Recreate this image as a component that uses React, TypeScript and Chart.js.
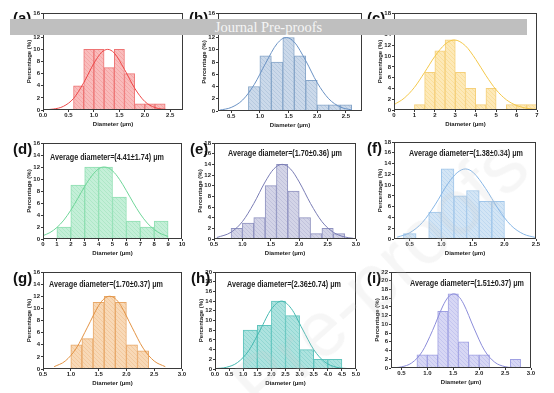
import React, { useEffect, useRef } from "react";
import { Chart, registerables } from "chart.js";
Chart.register(...registerables);

// ---------- data (percentages) ----------
const aBins = [0.7, 0.9, 1.1, 1.3, 1.5, 1.7, 1.9, 2.1, 2.3];
const aPct = [4, 10, 10, 7, 10, 6, 1, 1, 1];
const aFitX = [0.05, 0.2, 0.4, 0.6, 0.8, 1.0, 1.15, 1.27, 1.4, 1.6, 1.8, 2.0, 2.2, 2.45];
const aFitY = [0.05, 0.15, 0.6, 1.9, 4.5, 7.7, 9.5, 10, 9.4, 6.7, 3.6, 1.4, 0.4, 0.06];

const bBins = [0.9, 1.1, 1.3, 1.5, 1.7, 1.9, 2.1, 2.3, 2.5];
const bPct = [4, 9, 8, 12, 9, 5, 1, 1, 1];
const bFitX = [0.3, 0.5, 0.7, 0.9, 1.1, 1.3, 1.46, 1.6, 1.8, 2.0, 2.2, 2.4, 2.6];
const bFitY = [0.14, 0.58, 1.8, 4.3, 7.8, 11.0, 12, 11.25, 8.2, 4.6, 2.0, 0.66, 0.17];

const cBins = [1.25, 1.75, 2.25, 2.75, 3.25, 3.75, 4.25, 4.75, 5.75, 6.25, 6.75];
const cPct = [1, 7, 11, 13, 7, 4, 1, 4, 1, 1, 1];
const cFitX = [0, 0.5, 1, 1.5, 2, 2.5, 2.95, 3.5, 4, 4.5, 5, 5.5, 6, 6.5, 7];
const cFitY = [0.99, 2.2, 4.2, 7.0, 9.95, 12.2, 13, 11.9, 9.4, 6.4, 3.75, 1.9, 0.83, 0.31, 0.1];

const dBins = [1.5, 2.5, 3.5, 4.5, 5.5, 6.5, 7.5, 8.5];
const dPct = [2, 9, 12, 12, 7, 3, 2, 3];
const dFitX = [0, 0.5, 1, 1.5, 2, 2.5, 3, 3.5, 4, 4.41, 5, 5.5, 6, 6.5, 7, 7.5, 8, 8.5, 9];
const dFitY = [0.56, 1.07, 1.92, 3.15, 4.8, 6.75, 8.77, 10.5, 11.7, 12, 11.36, 9.95, 8.05, 6.02, 4.16, 2.66, 1.57, 0.86, 0.43];

const eBins = [0.9, 1.1, 1.3, 1.5, 1.7, 1.9, 2.1, 2.3, 2.5, 2.7];
const ePct = [2, 3, 4, 10, 14, 9, 4, 1, 2, 1];
const eFitX = [0.55, 0.8, 1.0, 1.2, 1.4, 1.55, 1.7, 1.85, 2.0, 2.2, 2.4, 2.6, 2.8, 2.95];
const eFitY = [0.28, 1.26, 3.26, 6.65, 10.7, 13.1, 14, 13.1, 10.7, 6.65, 3.26, 1.26, 0.38, 0.13];

const fBins = [0.5, 0.9, 1.1, 1.3, 1.5, 1.7, 1.9];
const fPct = [1, 5, 13, 8, 9, 7, 7];
const fFitX = [0.3, 0.5, 0.7, 0.9, 1.1, 1.25, 1.38, 1.5, 1.7, 1.9, 2.1, 2.3, 2.5];
const fFitY = [0.34, 1.16, 3.07, 6.33, 10.2, 12.3, 13, 12.4, 9.4, 5.6, 2.57, 0.92, 0.26];

const gBins = [1.1, 1.3, 1.5, 1.7, 1.9, 2.1, 2.3];
const gPct = [4, 5, 11, 12, 11, 4, 3];
const gFitX = [0.7, 0.9, 1.1, 1.3, 1.5, 1.6, 1.7, 1.8, 1.9, 2.1, 2.3, 2.5, 2.7];
const gFitY = [0.38, 1.31, 3.45, 6.9, 10.45, 11.6, 12, 11.6, 10.45, 6.9, 3.45, 1.31, 0.38];

const hBins = [1.25, 1.75, 2.25, 2.75, 3.25, 3.75, 4.25];
const hPct = [8, 9, 14, 11, 4, 2, 2];
const hFitX = [0, 0.4, 0.8, 1.2, 1.6, 2.0, 2.36, 2.7, 3.1, 3.5, 3.9, 4.3, 4.8];
const hFitY = [0.07, 0.34, 1.34, 3.82, 8.02, 12.36, 14, 12.5, 8.25, 4.0, 1.42, 0.37, 0.05];

const iBins = [0.9, 1.1, 1.3, 1.5, 1.7, 1.9, 2.1, 2.7];
const iPct = [3, 3, 13, 17, 6, 3, 3, 2];
const iFitX = [0.3, 0.5, 0.7, 0.9, 1.1, 1.3, 1.4, 1.51, 1.6, 1.7, 1.9, 2.1, 2.3, 2.5, 2.75];
const iFitY = [0.04, 0.26, 1.17, 3.72, 8.56, 14.2, 16.2, 17, 16.45, 14.7, 9.14, 4.1, 1.33, 0.31, 0.03];

const panelLabels = ["(a)", "(b)", "(c)", "(d)", "(e)", "(f)", "(g)", "(h)", "(i)"];
const averageTexts = [
  "",
  "",
  "",
  "Average diameter=(4.41±1.74) μm",
  "Average diameter=(1.70±0.36) μm",
  "Average diameter=(1.38±0.34) μm",
  "Average diameter=(1.70±0.37) μm",
  "Average diameter=(2.36±0.74) μm",
  "Average diameter=(1.51±0.37) μm",
];
const xTitle = "Diameter (μm)";
const yTitle = "Percentage (%)";

// ---------- layout / style ----------
type Spec = {
  box: number[];
  xMin: number;
  xMax: number;
  xStep: number;
  xDec: number;
  yMax: number;
  bins: number[];
  pct: number[];
  fitX: number[];
  fitY: number[];
  fill: string;
  hatch: string;
  edge: string;
  curve: string;
  labelPos: number[];
  annotPos: number[];
};

const PANELS: Spec[] = [
  { box: [43, 13, 183, 110], xMin: 0, xMax: 2.75, xStep: 0.5, xDec: 1, yMax: 16, bins: aBins, pct: aPct, fitX: aFitX, fitY: aFitY, fill: "#f9bcbc", hatch: "#f3a4a4", edge: "#ee7474", curve: "#ee4848", labelPos: [13, 10], annotPos: [0, 0] },
  { box: [218, 13, 362, 111], xMin: 0.27, xMax: 2.78, xStep: 0.5, xDec: 1, yMax: 16, bins: bBins, pct: bPct, fitX: bFitX, fitY: bFitY, fill: "#cbd9ea", hatch: "#b3c7de", edge: "#87a6c9", curve: "#6a92c4", labelPos: [189, 10], annotPos: [0, 0] },
  { box: [394, 13, 537, 110], xMin: 0, xMax: 7, xStep: 1, xDec: 0, yMax: 18, bins: cBins, pct: cPct, fitX: cFitX, fitY: cFitY, fill: "#fde9b8", hatch: "#f9dc96", edge: "#f5d07a", curve: "#f4c84a", labelPos: [367, 10], annotPos: [0, 0] },
  { box: [43, 143, 182, 239], xMin: 0, xMax: 10, xStep: 1, xDec: 0, yMax: 16, bins: dBins, pct: dPct, fitX: dFitX, fitY: dFitY, fill: "#c4efd8", hatch: "#abe7c5", edge: "#8fdfb2", curve: "#6fd699", labelPos: [13, 141], annotPos: [50, 152] },
  { box: [214, 143, 356, 239], xMin: 0.5, xMax: 3.0, xStep: 0.5, xDec: 1, yMax: 18, bins: eBins, pct: ePct, fitX: eFitX, fitY: eFitY, fill: "#d3d4e7", hatch: "#bec0da", edge: "#8f92c0", curve: "#7a7db5", labelPos: [190, 141], annotPos: [228, 148] },
  { box: [394, 142, 536, 239], xMin: 0.25, xMax: 2.5, xStep: 0.5, xDec: 1, yMax: 18, bins: fBins, pct: fPct, fitX: fFitX, fitY: fFitY, fill: "#d3e5f5", hatch: "#bcd7f0", edge: "#a0c6ea", curve: "#88b7e6", labelPos: [367, 140], annotPos: [409, 148] },
  { box: [43, 272, 182, 369], xMin: 0.5, xMax: 3.0, xStep: 0.5, xDec: 1, yMax: 16, bins: gBins, pct: gPct, fitX: gFitX, fitY: gFitY, fill: "#f8d9b7", hatch: "#f2c79b", edge: "#e8a868", curve: "#e39344", labelPos: [13, 270], annotPos: [49, 279] },
  { box: [215, 272, 356, 369], xMin: 0, xMax: 5, xStep: 0.5, xDec: 1, yMax: 20, bins: hBins, pct: hPct, fitX: hFitX, fitY: hFitY, fill: "#ade3df", hatch: "#8fd6d1", edge: "#5fc4bd", curve: "#45b9b1", labelPos: [191, 270], annotPos: [227, 279] },
  { box: [391, 272, 531, 368], xMin: 0.3, xMax: 3.0, xStep: 0.5, xDec: 1, yMax: 22, bins: iBins, pct: iPct, fitX: iFitX, fitY: iFitY, fill: "#d7d7f4", hatch: "#c2c3ee", edge: "#9fa0e2", curve: "#8c8dda", labelPos: [367, 270], annotPos: [410, 278] },
];

const YW = 20;
const XH = 20;
const PT = 6;
const PR = 10;
const FONT = "'Liberation Sans', Arial, sans-serif";
const TXT = "#222";

function makeHatch(bg: string, line: string) {
  const c = document.createElement("canvas");
  c.width = 4;
  c.height = 4;
  const x = c.getContext("2d")!;
  x.fillStyle = bg;
  x.fillRect(0, 0, 4, 4);
  x.strokeStyle = line;
  x.lineWidth = 0.9;
  x.beginPath();
  x.moveTo(0, 0);
  x.lineTo(4, 4);
  x.moveTo(-1, 3);
  x.lineTo(1, 5);
  x.moveTo(3, -1);
  x.lineTo(5, 1);
  x.stroke();
  return x.createPattern(c, "repeat")!;
}

const framePlugin = {
  id: "frame",
  afterDatasetsDraw(chart: any) {
    const { ctx, chartArea: a } = chart;
    ctx.save();
    ctx.strokeStyle = "#3a3a3a";
    ctx.lineWidth = 1;
    ctx.strokeRect(a.left + 0.5, a.top + 0.5, a.right - a.left - 1, a.bottom - a.top - 1);
    ctx.restore();
  },
};

function Panel({ spec }: { spec: Spec }) {
  const ref = useRef<HTMLCanvasElement>(null);
  const [L, T, R, B] = spec.box;
  const W = R - L + YW + PR;
  const H = B - T + PT + XH;
  useEffect(() => {
    const tickFont = { family: FONT, size: 6, weight: "bold" as const };
    const titleFont = { family: FONT, size: 6, weight: "bold" as const };
    const chart = new Chart(ref.current!, {
      type: "bar",
      data: {
        datasets: [
          {
            type: "line",
            data: spec.fitX.map((x, i) => ({ x, y: spec.fitY[i] })),
            borderColor: spec.curve,
            borderWidth: 1,
            pointRadius: 0,
            cubicInterpolationMode: "monotone",
            fill: false,
            order: 0,
          } as any,
          {
            type: "bar",
            data: spec.bins.map((x, i) => ({ x, y: spec.pct[i] })),
            backgroundColor: makeHatch(spec.fill, spec.hatch),
            borderColor: spec.edge,
            borderWidth: 1,
            borderSkipped: "bottom",
            barPercentage: 1,
            categoryPercentage: 1,
            order: 1,
          } as any,
        ],
      },
      options: {
        responsive: false,
        animation: false,
        events: [],
        layout: { padding: { top: PT, right: PR, left: 0, bottom: 0 } },
        plugins: { legend: { display: false }, tooltip: { enabled: false } },
        scales: {
          x: {
            type: "linear",
            min: spec.xMin,
            max: spec.xMax,
            offset: false,
            ticks: {
              stepSize: spec.xStep,
              includeBounds: false,
              autoSkip: false,
              maxRotation: 0,
              padding: 0,
              font: tickFont,
              color: TXT,
              callback: (v: any) => Number(v).toFixed(spec.xDec),
            },
            grid: { offset: false, drawOnChartArea: false, drawTicks: true, tickLength: 2, color: "#3a3a3a" },
            border: { display: false },
            title: { display: true, text: xTitle, font: titleFont, color: TXT, padding: { top: 0, bottom: 1.9 } },
            afterFit: (s: any) => {
              s.height = XH;
            },
          } as any,
          y: {
            type: "linear",
            min: 0,
            max: spec.yMax,
            ticks: { stepSize: 2, autoSkip: false, padding: 1, font: tickFont, color: TXT },
            grid: { drawOnChartArea: false, drawTicks: true, tickLength: 2, color: "#3a3a3a" },
            border: { display: false },
            title: { display: true, text: yTitle, font: titleFont, color: TXT, padding: { top: 2.4, bottom: 0 } },
            afterFit: (s: any) => {
              s.width = YW;
            },
          } as any,
        },
      },
      plugins: [framePlugin],
    });
    return () => chart.destroy();
  }, []);
  return (
    <canvas
      ref={ref}
      width={W}
      height={H}
      style={{ position: "absolute", left: L - YW, top: T - PT, width: W, height: H }}
    />
  );
}

export default function App() {
  return (
    <div
      style={{
        position: "fixed",
        left: 0,
        top: 0,
        width: 554,
        height: 393,
        background: "#fff",
        overflow: "hidden",
        fontFamily: FONT,
      }}
    >
      {PANELS.map((p, i) => (
        <Panel key={i} spec={p} />
      ))}
      {PANELS.map((p, i) => (
        <div
          key={"l" + i}
          style={{
            position: "absolute",
            left: p.labelPos[0],
            top: p.labelPos[1],
            fontSize: 15,
            fontWeight: "bold",
            lineHeight: "15px",
            color: "#111",
            whiteSpace: "nowrap",
          }}
        >
          {panelLabels[i]}
        </div>
      ))}
      {PANELS.map((p, i) =>
        averageTexts[i] ? (
          <div
            key={"t" + i}
            style={{
              position: "absolute",
              left: p.annotPos[0],
              top: p.annotPos[1],
              fontSize: 9,
              fontWeight: "bold",
              lineHeight: "10px",
              color: TXT,
              whiteSpace: "nowrap",
              transform: "scaleX(0.8)",
              transformOrigin: "left center",
            }}
          >
            {averageTexts[i]}
          </div>
        ) : null
      )}
      <div
        style={{
          position: "absolute",
          left: 380,
          top: 275,
          transform: "translate(-50%, -50%) rotate(-42deg)",
          fontSize: 78,
          color: "rgba(200,200,200,0.17)",
          whiteSpace: "nowrap",
          pointerEvents: "none",
          fontFamily: FONT,
        }}
      >
        Pre-proofs
      </div>
      <div
        style={{
          position: "absolute",
          left: 10,
          top: 19,
          width: 517,
          height: 16,
          background: "#bfbfbf",
          color: "#f5f5f5",
          fontFamily: "'Liberation Serif', 'Times New Roman', serif",
          fontSize: 14.5,
          lineHeight: "16px",
          textAlign: "center",
          whiteSpace: "nowrap",
        }}
      >
        Journal Pre-proofs
      </div>
    </div>
  );
}
